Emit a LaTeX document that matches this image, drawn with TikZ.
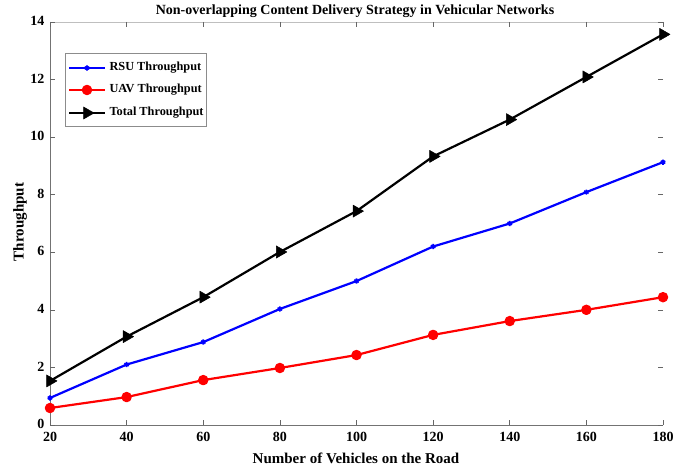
\documentclass[tikz,border=0pt]{standalone}
\usepackage{fontspec}
\setmainfont{Liberation Serif}
\usetikzlibrary{plotmarks}

\tikzset{
	axisline/.style={draw=black!55,line width=0.7pt},
	topline/.style={draw=black!25,line width=0.6pt},
	tickline/.style={draw=black!60,line width=0.6pt},
	ticktext/.style={font=\fontsize{14}{16}\selectfont\bfseries},
	legtext/.style={anchor=west,font=\fontsize{12.3}{14}\selectfont\bfseries},
	rsuline/.style={blue,line width=2.2pt,line join=round,mark=asterisk,mark size=2.6pt,mark options={line width=1.6pt}},
	uavline/.style={red,line width=2.2pt,line join=round,mark=*,mark size=4.1pt,mark options={fill=red}},
	totalline/.style={black,line width=2.2pt,line join=round,mark=triangle*,mark size=7pt,mark options={rotate=-90,fill=black,line width=0.5pt}}
}

\begin{document}
\begin{tikzpicture}[x=1pt,y=1pt]
\useasboundingbox (0,0) rectangle (697,468);

\begin{scope}[shift={(-26.625,43)},x=3.83125pt,y=28.786pt]
% frame
\coordinate (ll) at (20,0);
\coordinate (lr) at (180,0);
\coordinate (ul) at (20,14);
\coordinate (ur) at (180,14);
\draw[topline] (ul) -- (ur);
\draw[axisline] (ul) -- (ll) -- (lr);

\foreach \x in {20,40,...,180}
{
	\draw[tickline] (\x,0) -- ++(0,5pt);
	\draw[tickline] (\x,14) -- ++(0,-5pt);
	\path (\x,0) ++(0,-12pt) node[ticktext] (xt\x) {\x};
}
\foreach \y in {0,2,...,14}
{
	\draw[tickline] (20,\y) -- ++(5pt,0);
	\draw[tickline] (180,\y) -- ++(-5pt,0);
	\path (20,\y) ++(-2pt,1pt) node[ticktext,anchor=east] (yt\y) {\y};
}

% data
\draw[rsuline] plot coordinates {(20,0.94) (40,2.1) (60,2.88) (80,4.03) (100,5.0) (120,6.2) (140,7.0) (160,8.09) (180,9.13)};
\draw[uavline] plot coordinates {(20,0.59) (40,0.97) (60,1.56) (80,1.98) (100,2.43) (120,3.13) (140,3.61) (160,4.0) (180,4.44)};
\draw[totalline] plot coordinates {(20,1.53) (40,3.07) (60,4.44) (80,6.01) (100,7.43) (120,9.33) (140,10.61) (160,12.09) (180,13.57)};
\end{scope}

% legend
\draw[draw=black!45,fill=white,line width=0.6pt] (65,342) rectangle (206,415);
\path (106,400) node[legtext] (legrsu) {RSU Throughput};
\path (106,378) node[legtext] (leguav) {UAV Throughput};
\path (106,355) node[legtext] (legtotal) {Total Throughput};
\draw[rsuline] plot[mark indices={2}] coordinates {(69,400) (87,400) (105,400)};
\draw[uavline] plot[mark indices={2}] coordinates {(69,378) (87,378) (105,378)};
\draw[totalline] plot[mark indices={2}] coordinates {(69,355) (87,355) (105,355)};

% labels
\path (355,457) node[font=\fontsize{14}{16}\selectfont\bfseries] (title) {Non-overlapping Content Delivery Strategy in Vehicular Networks};
\path (356,10) node[font=\fontsize{15}{17}\selectfont\bfseries] (xlabel) {Number of Vehicles on the Road};
\path (20,246) node[rotate=90,font=\fontsize{15}{17}\selectfont\bfseries] (ylabel) {Throughput};
\end{tikzpicture}
\end{document}
